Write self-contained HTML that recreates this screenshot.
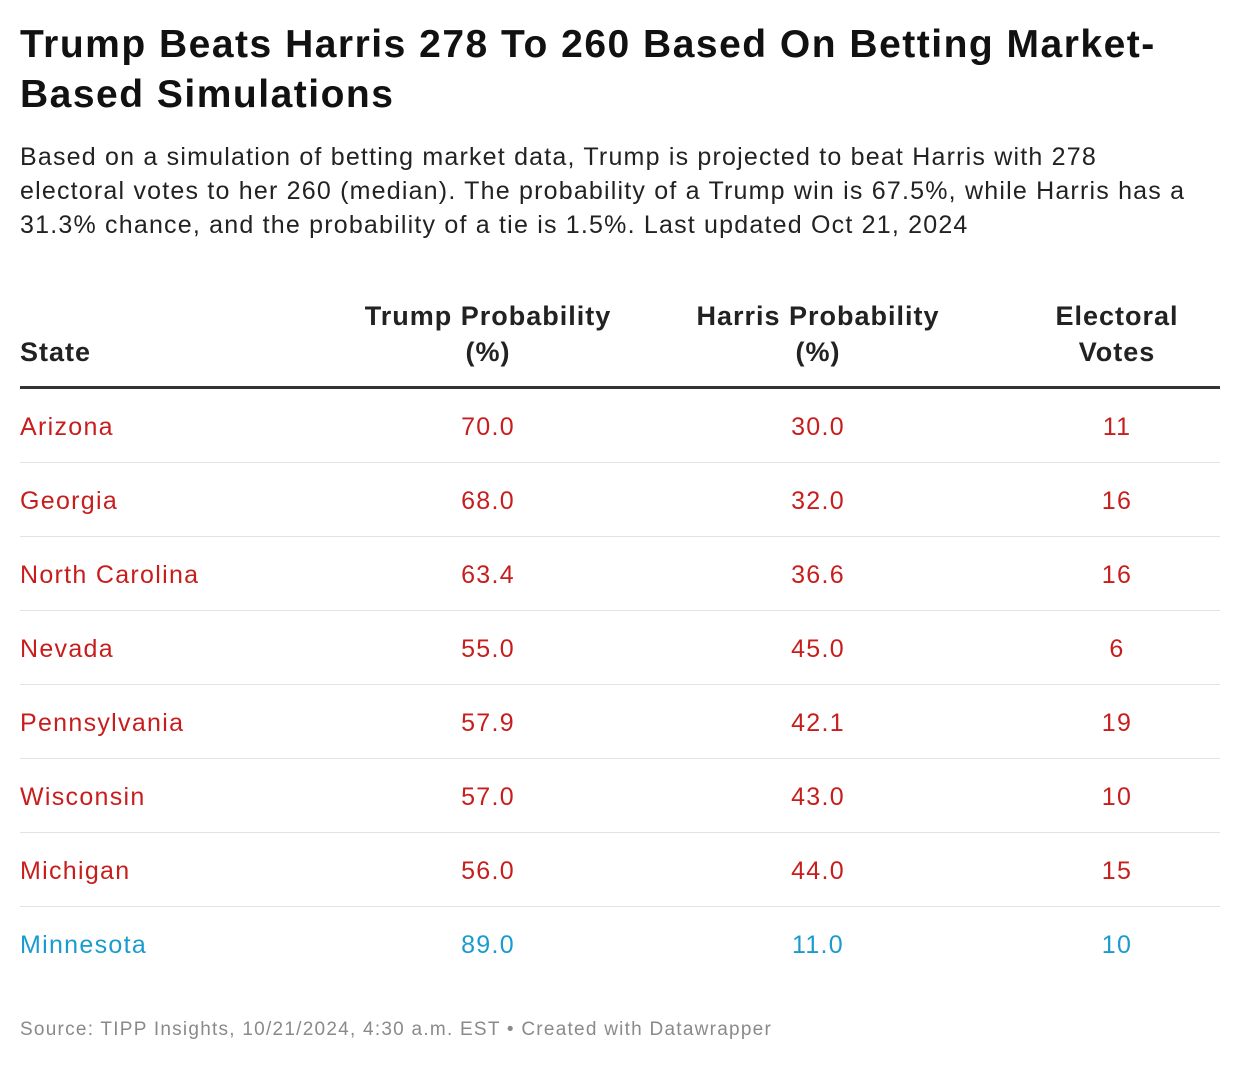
<!DOCTYPE html>
<html><head><meta charset="utf-8"><style>
body{margin:0;width:1240px;height:1066px;background:#fff;font-family:"Liberation Sans",Arial,sans-serif;position:relative;overflow:hidden}
.a{position:absolute;white-space:nowrap}
h1{position:absolute;left:20px;top:20px;margin:0;font-size:39px;line-height:50px;font-weight:bold;color:#111;letter-spacing:1.5px;white-space:nowrap}
.sub{position:absolute;left:20px;top:140px;width:1220px;font-size:25px;line-height:34px;color:#222;letter-spacing:1.2px;white-space:nowrap}
.hd{font-size:27px;font-weight:bold;color:#222;line-height:36px;text-align:center;letter-spacing:1px}
.cell{font-size:25px;line-height:30px;text-align:center;letter-spacing:1.3px}
.sep{position:absolute;left:20px;width:1200px;height:1px;background:#e3e3e3}
.foot{position:absolute;left:20px;top:1019px;font-size:19px;color:#8a8a8a;letter-spacing:1.25px}
</style></head><body>
<h1>Trump Beats Harris 278 To 260 Based On Betting Market-<br>Based Simulations</h1>
<div class="sub">Based on a simulation of betting market data, Trump is projected to beat Harris with 278<br>electoral votes to her 260 (median). The probability of a Trump win is 67.5%, while Harris has a<br>31.3% chance, and the probability of a tie is 1.5%. Last updated Oct 21, 2024</div>
<div class="a hd" style="left:20px;top:334px;text-align:left">State</div>
<div class="a hd" style="left:338px;width:300px;top:298px">Trump Probability<br>(%)</div>
<div class="a hd" style="left:668px;width:300px;top:298px">Harris Probability<br>(%)</div>
<div class="a hd" style="left:1017px;width:200px;top:298px">Electoral<br>Votes</div>
<div class="a" style="left:20px;top:386px;width:1200px;height:3px;background:#333"></div>
<div id="rows"></div>
<div class="foot">Source: TIPP Insights, 10/21/2024, 4:30 a.m. EST • Created with Datawrapper</div>
<script>
const states=["Arizona","Georgia","North Carolina","Nevada","Pennsylvania","Wisconsin","Michigan","Minnesota"];
const trump=["70.0","68.0","63.4","55.0","57.9","57.0","56.0","89.0"];
const harris=["30.0","32.0","36.6","45.0","42.1","43.0","44.0","11.0"];
const votes=["11","16","16","6","19","10","15","10"];
const party=["r","r","r","r","r","r","r","d"];
const root=document.getElementById('rows');
states.forEach((s,i)=>{
  const y=389+i*74;
  const col=party[i]==='d'?'#1a9bcf':'#c71e1d';
  const cells=[[s,20,0,'left','state-name'],[trump[i],338,300,'center','trump-value'],[harris[i],668,300,'center','harris-value'],[votes[i],1017,200,'center','electoral-votes-value']];
  cells.forEach(c=>{
    const d=document.createElement('div');
    d.className='a cell';
    d.style.left=c[1]+'px';d.style.top=(y+23)+'px';
    if(c[2])d.style.width=c[2]+'px';
    d.style.textAlign=c[3];d.style.color=col;
    d.textContent=c[0];
    
    
    root.appendChild(d);
  });
  if(i<states.length-1){
    const l=document.createElement('div');
    l.className='sep';l.style.top=(y+73)+'px';
    
    
    root.appendChild(l);
  }
});
</script>
</body></html>
